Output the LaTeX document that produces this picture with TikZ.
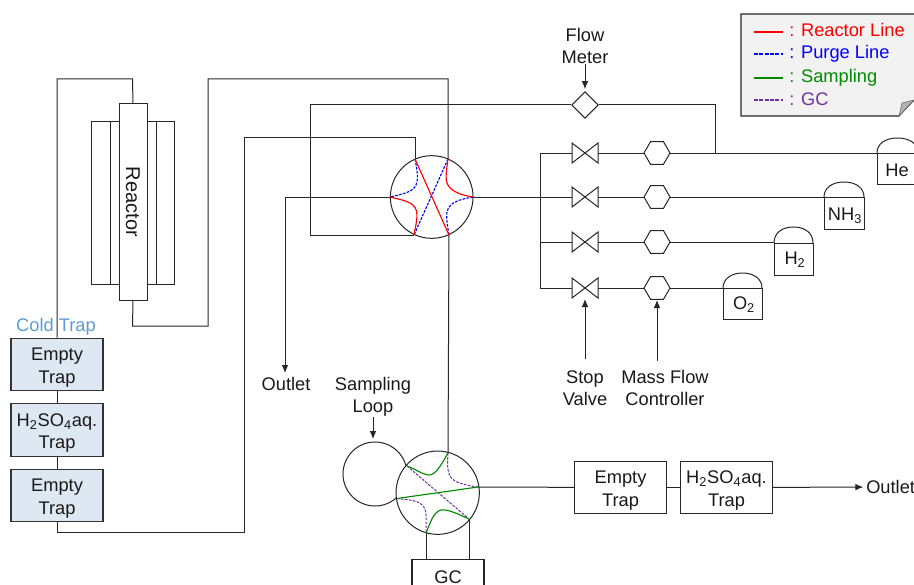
\documentclass[tikz,border=0pt]{standalone}
\usepackage{fontspec}
\setmainfont{Liberation Sans}
\usetikzlibrary{arrows.meta,shapes.geometric}
\definecolor{trapfill}{HTML}{DEE8F3}
\definecolor{coldblue}{HTML}{5B9BD5}
\definecolor{samp}{HTML}{008A00}
\definecolor{gcp}{HTML}{7030A0}
\tikzset{
 x=0.75pt,y=-0.75pt,
 pipe/.style={draw=black!85,line width=0.75pt},
 arrowpipe/.style={pipe,-{Latex[length=6pt,width=5pt]}},
 lbl/.style={font=\fontsize{13.7pt}{16.5pt}\selectfont,align=center,text=black!90,inner sep=0pt},
 boxlbl/.style={lbl,font=\fontsize{13.7pt}{16.8pt}\selectfont,yshift=-2.25pt},
 trapbox/.style={draw=black!80,line width=0.8pt,fill=trapfill,minimum width=69pt,minimum height=39.5pt,inner sep=0pt},
 plainbox/.style={draw=black!85,line width=0.8pt,minimum width=68.5pt,minimum height=39.5pt,inner sep=0pt},
 valvecirc/.style={circle,draw=black!85,line width=0.75pt,fill=white,inner sep=0pt},
 mfc/.style={regular polygon,regular polygon sides=6,draw=black!85,line width=0.75pt,fill=white,inner sep=0pt,minimum size=19.5pt},
 rline/.style={red,line width=0.85pt},
 bline/.style={blue,line width=0.85pt,dash pattern=on 2pt off 1pt},
 sline/.style={samp,line width=0.85pt},
 gline/.style={gcp,line width=0.75pt,dash pattern=on 2pt off 1pt},
 tankbody/.style={draw=black!85,line width=0.75pt},
}
\newcommand{\valvetie}[2]{%
 \draw[line width=0.75pt,draw=black!85,fill=white] (#1-13,#2-10) -- (#1+13,#2+10) -- (#1+13,#2-10) -- (#1-13,#2+10) -- cycle;}
\newcommand{\tank}[5]{% left right arctop liney bottom
 \draw[tankbody] (#1,#4) -- (#1,#5) -- (#2,#5) -- (#2,#4);
 \draw[tankbody] (#1,#4) -- (#2,#4);
 \draw[tankbody] (#1,#4) .. controls (#1,#3+6) and (#1+8,#3) .. ({(#1+#2)/2},#3) .. controls (#2-8,#3) and (#2,#3+6) .. (#2,#4);}
\begin{document}
\begin{tikzpicture}
\useasboundingbox (0,0) rectangle (914,585);
% coordinates of free ends
\coordinate (v1tl) at (415,159); \coordinate (v1tr) at (448,159);
\coordinate (v1l) at (390,197);  \coordinate (v1r) at (473,197);
\coordinate (v1bl) at (414,235); \coordinate (v1br) at (449,235);
\coordinate (v2tr) at (448,453); \coordinate (v2tl) at (407,466);
\coordinate (v2l) at (397,498.5);  \coordinate (v2r) at (478,487);
\coordinate (v2br) at (469,519); \coordinate (v2b) at (426,533);
% reactor
\node[draw=black!85,line width=0.75pt,minimum width=62.25pt,minimum height=122.25pt,inner sep=0pt] (jacket) at (132.5,202.5) {};
\draw[pipe] (110,121) -- (110,284) (156,121) -- (156,284);
\node[draw=black!85,line width=0.75pt,fill=white,minimum width=21pt,minimum height=147pt,inner sep=0pt] (reactor) at (133,202) {};
\node[lbl,rotate=-90,font=\fontsize{15pt}{18pt}\selectfont] (reactortext) at (reactor.center) {Reactor};
% traps
\node[trapbox,label={[boxlbl]center:{Empty\\Trap}}] (t1) at (57,364.5) {};
\node[trapbox,label={[boxlbl]center:{H\textsubscript{2}SO\textsubscript{4}aq.\\Trap}}] (t2) at (57,430) {};
\node[trapbox,label={[boxlbl]center:{Empty\\Trap}}] (t3) at (57,495.5) {};
\node[lbl,text=coldblue,anchor=center] (cold) at (56,327) {Cold Trap};
% piping
\draw[pipe] (t1.north) -- (57,79) -- (132.5,79) -- (reactor.north);
\draw[pipe] (t1) -- (t2);
\draw[pipe] (t2) -- (t3);
\draw[pipe] (t3.south) -- (57,532) -- (244,532) -- (244,137) -- (415,137) -- (v1tl);
\draw[pipe] (reactor.south) -- (132.5,326) -- (208,326) -- (208,79) -- (448,79) -- (v1tr);
\draw[pipe] (v1br) -- (v2tr);
\node[draw=black!85,line width=0.75pt,diamond,minimum size=20pt,inner sep=0pt,aspect=1] (fm) at (585,105) {};
\draw[pipe] (fm.west) -- (310,105) -- (310,235) -- (v1bl);
\draw[pipe] (fm.east) -- (715,105) -- (715,153);
\draw[arrowpipe] (v1l) -- (285,197) -- (285,373);
% gas rows
\draw[pipe] (540,153) -- (540,288);
\draw[pipe] (540,153) -- (877,153);
\draw[pipe] (v1r) -- (824,197);
\draw[pipe] (540,242) -- (774,242);
\draw[pipe] (540,288) -- (723,288);
\valvetie{585}{153}\valvetie{585}{197}\valvetie{585}{242}\valvetie{585}{288}
\node[mfc] (m1) at (657,153) {};
\node[mfc] (m2) at (657,197) {};
\node[mfc] (m3) at (657,242) {};
\node[mfc] (m4) at (657,288) {};
% tanks
\tank{877}{918}{138}{153}{184}
\tank{824}{864}{182}{197}{229}
\tank{774}{813}{227}{243}{275}
\tank{723}{762}{273}{288}{319}
\node[lbl] (he) at (897,170) {He};
\node[lbl] (nh3) at (845,216) {NH\textsubscript{3}};
\node[lbl] (hh) at (795,260) {H\textsubscript{2}};
\node[lbl] (oo) at (744,305) {O\textsubscript{2}};
% valve 1
\node[valvecirc,minimum size=62pt,draw=black!85] (v1) at (431.7,197) {};
\draw[bline] (v1tr) -- (v1bl);
\draw[bline] (v1tl) .. controls (416.5,167) and (419,178) .. (416,185) .. controls (413,192) and (403,194) .. (v1l);
\draw[bline] (v1r) .. controls (463,199) and (449,201) .. (447,212) .. controls (446,220) and (448,228) .. (v1br);
\draw[rline] (v1tl) -- (v1br);
\draw[rline] (v1l) .. controls (401,200) and (414,201) .. (416.5,211) .. controls (418,219) and (415,228) .. (v1bl);
\draw[rline] (v1tr) .. controls (447,167) and (445,177) .. (447,183) .. controls (450,192) and (463,195.5) .. (v1r);
% valve 2
\node[circle,draw=black!85,line width=0.75pt,minimum size=48pt,inner sep=0pt] (loop) at (375,474) {};
\node[valvecirc,minimum size=62.5pt] (v2) at (437.7,492.7) {};
\draw[gline] (v2tl) -- (v2br);
\draw[gline] (v2tr) .. controls (447.5,464) and (446,476) .. (455,481) .. controls (461,484) and (470,486) .. (v2r);
\draw[gline] (v2l) .. controls (406,500) and (421,499) .. (425,509) .. controls (427,516) and (426,526) .. (v2b);
\draw[sline] (v2l) -- (v2r);
\draw[sline] (v2tl) .. controls (415,469) and (422,474) .. (428,475) .. controls (436,476) and (442,463) .. (v2tr);
\draw[sline] (v2b) .. controls (430,524) and (433,512) .. (441,510) .. controls (448,509) and (458,514) .. (v2br);
\node[plainbox,minimum height=26pt,minimum width=54pt,anchor=north,lbl] (gc) at (448,559) {GC};
\draw[pipe] (v2b) -- (426,559);
\draw[pipe] (v2br) -- (469,559);
% downstream
\node[plainbox,label={[boxlbl]center:{Empty\\Trap}}] (e2) at (620.5,487.5) {};
\node[plainbox,label={[boxlbl]center:{H\textsubscript{2}SO\textsubscript{4}aq.\\Trap}}] (h2) at (726.5,487.5) {};
\node[lbl,anchor=west] (out2) at (866,487) {Outlet};
\draw[pipe] (v2r) -- (e2);
\draw[pipe] (e2) -- (h2);
\draw[arrowpipe,shorten >=2pt] (h2) -- (out2);
% labels
\node[lbl] (out1) at (286,384) {Outlet};
\node[lbl] (fmt) at (585,46) {Flow\\Meter};
\node[lbl] (sl) at (373,397) {Sampling\\Loop};
\node[lbl] (sv) at (585,388) {Stop\\Valve};
\node[lbl] (mf) at (665,388) {Mass Flow\\Controller};
\draw[arrowpipe,shorten >=1.5pt] (fmt) -- (fm);
\draw[arrowpipe] (sl) -- (373,439);
\coordinate (svt) at (585,359);
\coordinate (mft) at (657,361);
\draw[arrowpipe] (svt) -- (585,299);
\draw[arrowpipe] (mft) -- (657,300);
% legend
\draw[draw=black!85,line width=0.8pt,fill=black!5] (914,14) -- (741,14) -- (741,116) -- (899,116) -- (914,100);
\draw[black!60,line width=0.4pt,fill=black!30] (899,116) -- (902,103) -- (914,100) -- cycle;
\draw[red,line width=0.9pt] (754,32) -- (783,32);
\draw[blue,line width=0.9pt,dash pattern=on 3pt off 1pt] (754,54) -- (783,54);
\draw[samp,line width=0.9pt] (754,78) -- (783,78);
\draw[gcp,line width=0.9pt,dash pattern=on 3pt off 1pt] (754,100) -- (783,100);
\node[lbl,text=red,anchor=base west] (lg1) at (789,37) {: Reactor Line};
\node[lbl,text=blue,anchor=base west] (lg2) at (789,59) {: Purge Line};
\node[lbl,text=samp,anchor=base west] (lg3) at (789,83) {: Sampling};
\node[lbl,text=gcp,anchor=base west] (lg4) at (789,105) {: GC};
\end{tikzpicture}
\end{document}
